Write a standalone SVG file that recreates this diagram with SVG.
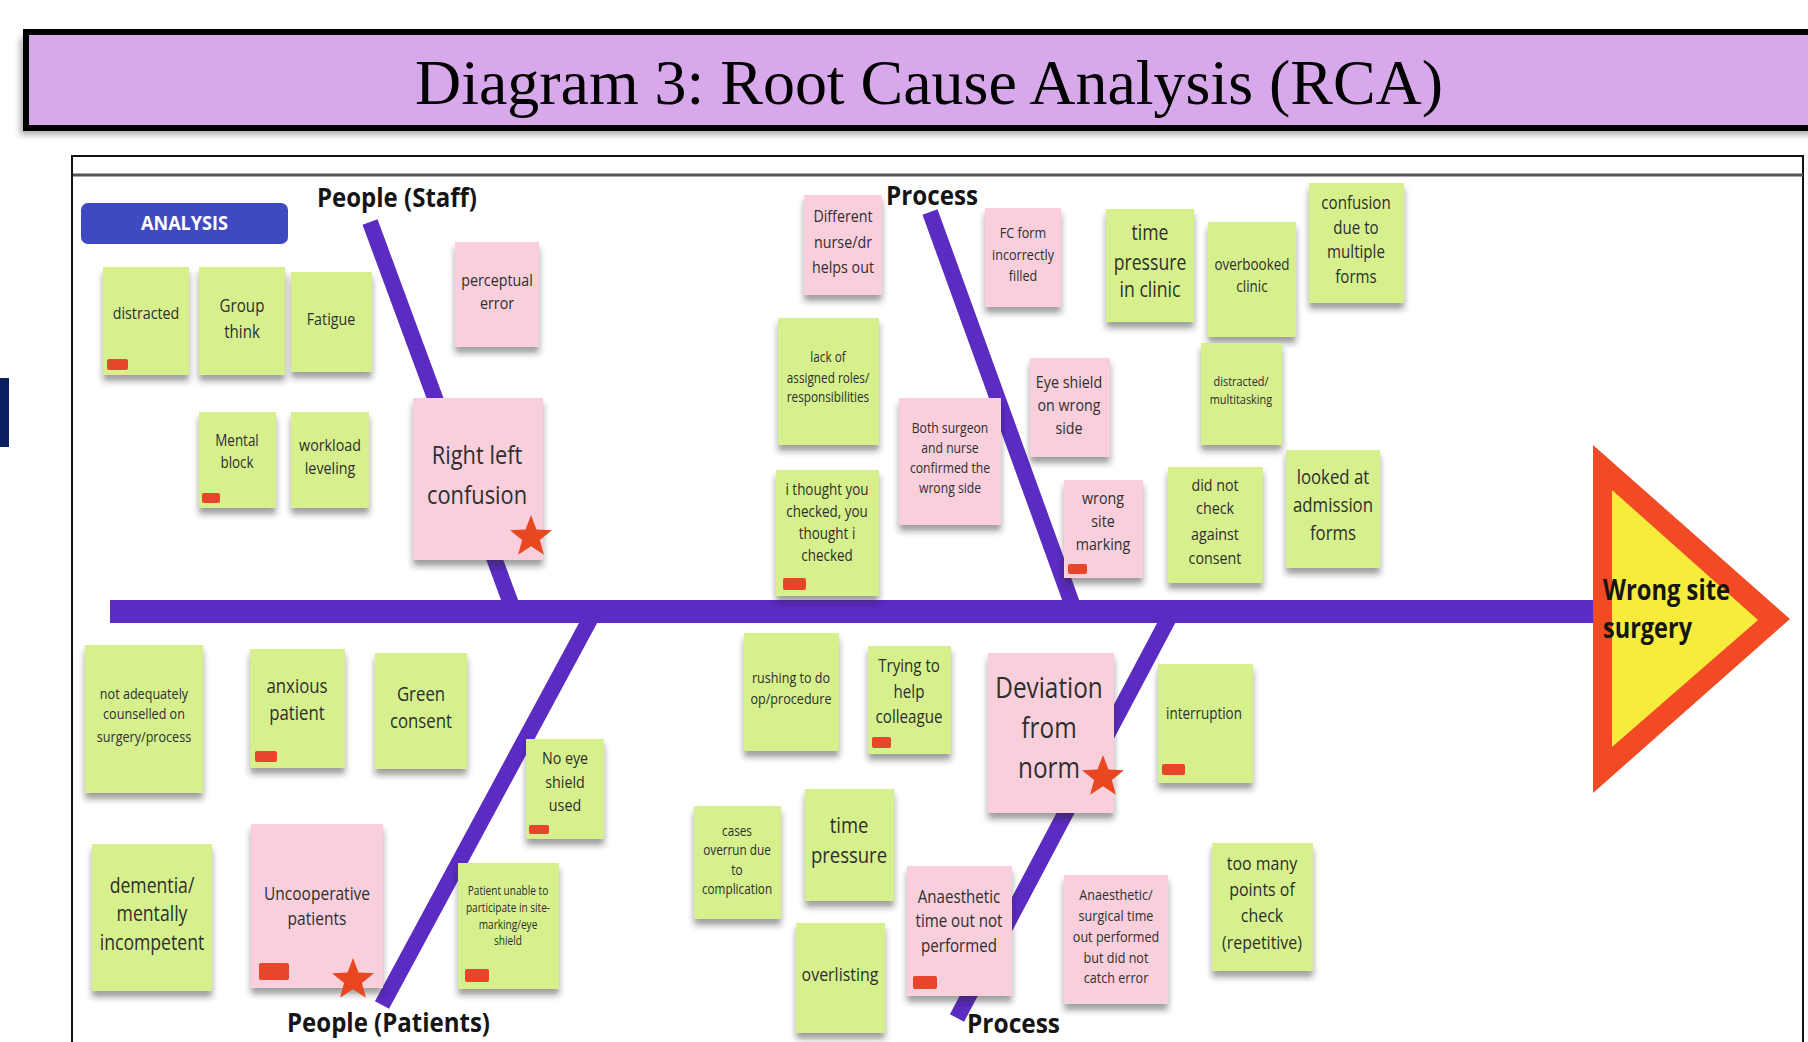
<svg xmlns="http://www.w3.org/2000/svg" width="1808" height="1042" viewBox="0 0 1808 1042">
<defs>
<filter id="sh" x="-15%" y="-10%" width="130%" height="130%"><feDropShadow dx="0" dy="6" stdDeviation="3" flood-color="#222" flood-opacity="0.45"/></filter>
<filter id="bl" x="-5%" y="-20%" width="110%" height="140%"><feGaussianBlur stdDeviation="3"/></filter>
<polygon id="star" points="0,-20 5,-6.88 19.02,-6.18 8.08,2.63 11.76,16.18 0,8.5 -11.76,16.18 -8.08,2.63 -19.02,-6.18 -5,-6.88"/>
</defs>
<style>
.g{fill:#d6f08d}
.p{fill:#f9cfdc}
.b{filter:url(#sh)}
.t{font-family:"Open Sans","Liberation Sans",sans-serif;fill:#2e2e2e;text-anchor:middle}
.tag{fill:#e8462a}
.bone{stroke:#5b2bc2;stroke-width:16;fill:none}
.lbl{font-family:"Open Sans","Liberation Sans",sans-serif;font-weight:700;fill:#151515}
.star{fill:#e8471f}
</style>
<rect width="1808" height="1042" fill="#fff"/>

<g id="title">
<rect x="20" y="38" width="1800" height="97" fill="#777" opacity="0.6" filter="url(#bl)"/>
<rect x="26" y="32" width="1800" height="96" fill="#d8a9ea" stroke="#000" stroke-width="6"/>
<text x="929" y="104" font-family="'Liberation Serif',serif" font-size="63" text-anchor="middle" textLength="1028" lengthAdjust="spacingAndGlyphs" fill="#000">Diagram 3: Root Cause Analysis (RCA)</text>
</g>
<rect x="0" y="378" width="9" height="69" fill="#0c1f5e"/>

<g id="panel">
<rect x="72" y="156" width="1731" height="900" fill="#fff" stroke="#111" stroke-width="2"/>
<line x1="73" y1="175" x2="1803" y2="175" stroke="#555" stroke-width="3"/>
</g>

<g id="analysis">
<rect x="81" y="203" width="207" height="41" rx="7" fill="#3f49c0"/>
<text x="184.5" y="230" class="lbl" font-size="20" fill="#fff" style="fill:#fff" text-anchor="middle" textLength="87" lengthAdjust="spacingAndGlyphs">ANALYSIS</text>
</g>

<g id="connectors">
<rect x="110" y="600" width="1484" height="23" fill="#5b2bc2"/>
<line class="bone" x1="370" y1="222" x2="514" y2="612"/>
<line class="bone" x1="930" y1="212" x2="1075" y2="612"/>
<line class="bone" x1="594" y1="612" x2="382" y2="1005"/>
<line class="bone" x1="1172" y1="612" x2="957" y2="1018"/>
</g>

<g id="effect">
<polygon points="1593,445 1790,619 1593,793" fill="#f24a25"/>
<polygon points="1612,490 1758,620 1612,747" fill="#f7ec3b"/>
<text class="lbl" font-size="29"><tspan x="1603" y="600" textLength="127" lengthAdjust="spacingAndGlyphs">Wrong site</tspan><tspan x="1603" y="638" textLength="89" lengthAdjust="spacingAndGlyphs">surgery</tspan></text>
</g>

<g id="labels">
<text id="lbl-staff" class="lbl" x="317" y="207" font-size="27" textLength="160" lengthAdjust="spacingAndGlyphs">People (Staff)</text>
<text id="lbl-process-top" class="lbl" x="886" y="205" font-size="27" textLength="92" lengthAdjust="spacingAndGlyphs">Process</text>
<text id="lbl-patients" class="lbl" x="287" y="1032" font-size="27" textLength="203" lengthAdjust="spacingAndGlyphs">People (Patients)</text>
<text id="lbl-process-bottom" class="lbl" x="967" y="1033" font-size="27" textLength="93" lengthAdjust="spacingAndGlyphs">Process</text>
</g>

<g id="n1"><rect class="b g" x="103" y="267" width="86" height="108"/><rect class="tag" x="107" y="359" width="21" height="11" rx="2"/><text class="t" font-size="17" transform="translate(146 0) scale(.84 1)"><tspan x="0" y="319">distracted</tspan></text></g>
<g id="n2"><rect class="b g" x="199" y="267" width="86" height="108"/><text class="t" font-size="18" transform="translate(242 0) scale(.84 1)"><tspan x="0" y="312">Group</tspan><tspan x="0" y="338">think</tspan></text></g>
<g id="n3"><rect class="b g" x="291" y="272" width="81" height="100"/><text class="t" font-size="17" transform="translate(331 0) scale(.84 1)"><tspan x="0" y="325">Fatigue</tspan></text></g>
<g id="n4"><rect class="b p" x="455" y="242" width="84" height="105"/><text class="t" font-size="17" transform="translate(497 0) scale(.84 1)"><tspan x="0" y="286">perceptual</tspan><tspan x="0" y="309">error</tspan></text></g>
<g id="n5"><rect class="b g" x="199" y="412" width="77" height="96"/><rect class="tag" x="202" y="493" width="18" height="10" rx="2"/><text class="t" font-size="16" transform="translate(237 0) scale(.84 1)"><tspan x="0" y="446">Mental</tspan><tspan x="0" y="468">block</tspan></text></g>
<g id="n6"><rect class="b g" x="291" y="412" width="78" height="96"/><text class="t" font-size="17" transform="translate(330 0) scale(.84 1)"><tspan x="0" y="451">workload</tspan><tspan x="0" y="474">leveling</tspan></text></g>
<g id="n7"><rect class="b p" x="413" y="398" width="130" height="162"/><text class="t" font-size="26" transform="translate(477 0) scale(.84 1)"><tspan x="0" y="464">Right left</tspan><tspan x="0" y="504">confusion</tspan></text><use href="#star" class="star" transform="translate(531 537) scale(1.1)"/></g>
<g id="n8"><rect class="b p" x="804" y="195" width="78" height="100"/><text class="t" font-size="17" transform="translate(843 0) scale(.84 1)"><tspan x="0" y="222">Different</tspan><tspan x="0" y="248">nurse/dr</tspan><tspan x="0" y="273">helps out</tspan></text></g>
<g id="n9"><rect class="b g" x="778" y="318" width="101" height="127"/><text class="t" font-size="14" transform="translate(828 0) scale(.84 1)"><tspan x="0" y="362">lack of</tspan><tspan x="0" y="383">assigned roles/</tspan><tspan x="0" y="402">responsibilities</tspan></text></g>
<g id="n10"><rect class="b g" x="776" y="470" width="103" height="126"/><rect class="tag" x="783" y="578" width="23" height="12" rx="2"/><text class="t" font-size="16" transform="translate(827 0) scale(.84 1)"><tspan x="0" y="495">i thought you</tspan><tspan x="0" y="517">checked, you</tspan><tspan x="0" y="539">thought i</tspan><tspan x="0" y="561">checked</tspan></text></g>
<g id="n11"><rect class="b p" x="985" y="208" width="76" height="99"/><text class="t" font-size="15" transform="translate(1023 0) scale(.84 1)"><tspan x="0" y="238">FC form</tspan><tspan x="0" y="260">incorrectly</tspan><tspan x="0" y="281">filled</tspan></text></g>
<g id="n12"><rect class="b g" x="1106" y="209" width="88" height="113"/><text class="t" font-size="21" transform="translate(1150 0) scale(.84 1)"><tspan x="0" y="240">time</tspan><tspan x="0" y="270">pressure</tspan><tspan x="0" y="297">in clinic</tspan></text></g>
<g id="n13"><rect class="b g" x="1208" y="222" width="88" height="115"/><text class="t" font-size="16" transform="translate(1252 0) scale(.84 1)"><tspan x="0" y="270">overbooked</tspan><tspan x="0" y="292">clinic</tspan></text></g>
<g id="n14"><rect class="b g" x="1309" y="183" width="95" height="120"/><text class="t" font-size="18" transform="translate(1356 0) scale(.84 1)"><tspan x="0" y="209">confusion</tspan><tspan x="0" y="234">due to</tspan><tspan x="0" y="258">multiple</tspan><tspan x="0" y="283">forms</tspan></text></g>
<g id="n15"><rect class="b p" x="1030" y="358" width="80" height="99"/><text class="t" font-size="17" transform="translate(1069 0) scale(.84 1)"><tspan x="0" y="388">Eye shield</tspan><tspan x="0" y="411">on wrong</tspan><tspan x="0" y="434">side</tspan></text></g>
<g id="n16"><rect class="b g" x="1201" y="343" width="81" height="102"/><text class="t" font-size="13" transform="translate(1241 0) scale(.84 1)"><tspan x="0" y="386">distracted/</tspan><tspan x="0" y="404">multitasking</tspan></text></g>
<g id="n17"><rect class="b p" x="899" y="398" width="102" height="127"/><text class="t" font-size="14.5" transform="translate(950 0) scale(.84 1)"><tspan x="0" y="433">Both surgeon</tspan><tspan x="0" y="453">and nurse</tspan><tspan x="0" y="473">confirmed the</tspan><tspan x="0" y="493">wrong side</tspan></text></g>
<g id="n18"><rect class="b p" x="1064" y="480" width="79" height="98"/><rect class="tag" x="1068" y="564" width="19" height="10" rx="2"/><text class="t" font-size="17" transform="translate(1103 0) scale(.84 1)"><tspan x="0" y="504">wrong</tspan><tspan x="0" y="527">site</tspan><tspan x="0" y="550">marking</tspan></text></g>
<g id="n19"><rect class="b g" x="1168" y="467" width="95" height="116"/><text class="t" font-size="17" transform="translate(1215 0) scale(.84 1)"><tspan x="0" y="491">did not</tspan><tspan x="0" y="514">check</tspan><tspan x="0" y="540">against</tspan><tspan x="0" y="564">consent</tspan></text></g>
<g id="n20"><rect class="b g" x="1286" y="450" width="94" height="118"/><text class="t" font-size="20" transform="translate(1333 0) scale(.84 1)"><tspan x="0" y="484">looked at</tspan><tspan x="0" y="512">admission</tspan><tspan x="0" y="540">forms</tspan></text></g>
<g id="n21"><rect class="b g" x="85" y="645" width="118" height="148"/><text class="t" font-size="15" transform="translate(144 0) scale(.84 1)"><tspan x="0" y="699">not adequately</tspan><tspan x="0" y="719">counselled on</tspan><tspan x="0" y="742">surgery/process</tspan></text></g>
<g id="n22"><rect class="b g" x="250" y="649" width="95" height="119"/><rect class="tag" x="255" y="751" width="22" height="11" rx="2"/><text class="t" font-size="20" transform="translate(297 0) scale(.84 1)"><tspan x="0" y="693">anxious</tspan><tspan x="0" y="720">patient</tspan></text></g>
<g id="n23"><rect class="b g" x="375" y="653" width="92" height="116"/><text class="t" font-size="20" transform="translate(421 0) scale(.84 1)"><tspan x="0" y="701">Green</tspan><tspan x="0" y="728">consent</tspan></text></g>
<g id="n24"><rect class="b g" x="526" y="739" width="78" height="100"/><rect class="tag" x="529" y="825" width="20" height="9" rx="2"/><text class="t" font-size="17" transform="translate(565 0) scale(.84 1)"><tspan x="0" y="764">No eye</tspan><tspan x="0" y="788">shield</tspan><tspan x="0" y="811">used</tspan></text></g>
<g id="n25"><rect class="b g" x="92" y="844" width="120" height="147"/><text class="t" font-size="21" transform="translate(152 0) scale(.84 1)"><tspan x="0" y="893">dementia/</tspan><tspan x="0" y="921">mentally</tspan><tspan x="0" y="950">incompetent</tspan></text></g>
<g id="n26"><rect class="b p" x="251" y="824" width="132" height="164"/><rect class="tag" x="259" y="963" width="30" height="17" rx="2"/><text class="t" font-size="18.5" transform="translate(317 0) scale(.84 1)"><tspan x="0" y="900">Uncooperative</tspan><tspan x="0" y="925">patients</tspan></text></g>
<g id="n27"><rect class="b g" x="458" y="863" width="101" height="126"/><rect class="tag" x="465" y="969" width="24" height="13" rx="2"/><text class="t" font-size="12" transform="translate(508 0) scale(.84 1)"><tspan x="0" y="895">Patient unable to</tspan><tspan x="0" y="912">participate in site-</tspan><tspan x="0" y="929">marking/eye</tspan><tspan x="0" y="945">shield</tspan></text></g>
<g id="n28"><rect class="b g" x="744" y="633" width="95" height="118"/><text class="t" font-size="15" transform="translate(791 0) scale(.84 1)"><tspan x="0" y="683">rushing to do</tspan><tspan x="0" y="704">op/procedure</tspan></text></g>
<g id="n29"><rect class="b g" x="868" y="646" width="83" height="108"/><rect class="tag" x="872" y="737" width="19" height="11" rx="2"/><text class="t" font-size="18" transform="translate(909 0) scale(.84 1)"><tspan x="0" y="672">Trying to</tspan><tspan x="0" y="698">help</tspan><tspan x="0" y="723">colleague</tspan></text></g>
<g id="n30"><rect class="b g" x="694" y="806" width="87" height="113"/><text class="t" font-size="14" transform="translate(737 0) scale(.84 1)"><tspan x="0" y="836">cases</tspan><tspan x="0" y="855">overrun due</tspan><tspan x="0" y="875">to</tspan><tspan x="0" y="894">complication</tspan></text></g>
<g id="n31"><rect class="b g" x="805" y="789" width="89" height="112"/><text class="t" font-size="22" transform="translate(849 0) scale(.84 1)"><tspan x="0" y="833">time</tspan><tspan x="0" y="863">pressure</tspan></text></g>
<g id="n32"><rect class="b g" x="796" y="923" width="89" height="110"/><text class="t" font-size="19" transform="translate(840 0) scale(.84 1)"><tspan x="0" y="981">overlisting</tspan></text></g>
<g id="n33"><rect class="b p" x="988" y="653" width="126" height="160"/><text class="t" font-size="29" transform="translate(1049 0) scale(.84 1)"><tspan x="0" y="698">Deviation</tspan><tspan x="0" y="738">from</tspan><tspan x="0" y="778">norm</tspan></text><use href="#star" class="star" transform="translate(1103 777) scale(1.1)"/></g>
<g id="n34"><rect class="b g" x="1158" y="664" width="95" height="119"/><rect class="tag" x="1162" y="764" width="23" height="11" rx="2"/><text class="t" font-size="16" transform="translate(1204 0) scale(.84 1)"><tspan x="0" y="719">interruption</tspan></text></g>
<g id="n35"><rect class="b p" x="907" y="866" width="105" height="130"/><rect class="tag" x="913" y="976" width="24" height="13" rx="2"/><text class="t" font-size="18" transform="translate(959 0) scale(.84 1)"><tspan x="0" y="903">Anaesthetic</tspan><tspan x="0" y="927">time out not</tspan><tspan x="0" y="952">performed</tspan></text></g>
<g id="n36"><rect class="b p" x="1064" y="875" width="104" height="129"/><text class="t" font-size="15" transform="translate(1116 0) scale(.84 1)"><tspan x="0" y="900">Anaesthetic/</tspan><tspan x="0" y="921">surgical  time</tspan><tspan x="0" y="942">out performed</tspan><tspan x="0" y="963">but did not</tspan><tspan x="0" y="983">catch error</tspan></text></g>
<g id="n37"><rect class="b g" x="1212" y="843" width="101" height="128"/><text class="t" font-size="19" transform="translate(1262 0) scale(.84 1)"><tspan x="0" y="870">too many</tspan><tspan x="0" y="896">points of</tspan><tspan x="0" y="922">check</tspan><tspan x="0" y="949">(repetitive)</tspan></text></g>
<use href="#star" class="star" transform="translate(353 980) scale(1.1)"/>
</svg>
